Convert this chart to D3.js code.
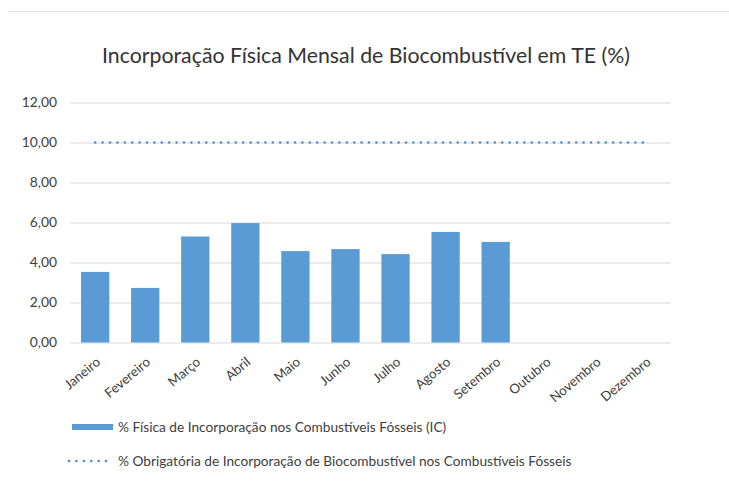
<!DOCTYPE html>
<html>
<head>
<meta charset="utf-8">
<script src="https://cdn.jsdelivr.net/npm/d3@7"></script>
<style>
  html, body { margin: 0; padding: 0; background: #fff; }
  text { font-family: Lato, "Open Sans", sans-serif; }
</style>
</head>
<body>
<svg id="chart" width="729" height="488"></svg>
<script>
const months = ["Janeiro","Fevereiro","Março","Abril","Maio","Junho","Julho","Agosto","Setembro","Outubro","Novembro","Dezembro"];
const physical = [3.53, 2.73, 5.30, 5.97, 4.57, 4.67, 4.42, 5.53, 5.03, null, null, null];
const mandatory = [10,10,10,10,10,10,10,10,10,10,10,10];
const yTicks = [0, 2, 4, 6, 8, 10, 12];
const title = "Incorporação Física Mensal de Biocombustível em TE (%)";
const legendBar = "% Física de Incorporação nos Combustíveis Fósseis (IC)";
const legendLine = "% Obrigatória de Incorporação de Biocombustível nos Combustíveis Fósseis";

const svg = d3.select("#chart");
const m = {left: 70, right: 58, top: 102.5, bottom: 145.5};
const W = 729, H = 488;
const x = d3.scaleBand().domain(months).range([m.left, W - m.right]).paddingInner(0.435).paddingOuter(0.22);
const y = d3.scaleLinear().domain([0, 12]).range([H - m.bottom, m.top]);
const fmt = v => d3.format(".2f")(v).replace(".", ",");
const barColor = "#5b9bd5";

// top separator line
svg.append("line").attr("x1", 8).attr("x2", 729).attr("y1", 11.5).attr("y2", 11.5)
  .attr("stroke", "#e3e3e3").attr("stroke-width", 1);

// title
svg.append("text").attr("x", 366).attr("y", 63).attr("text-anchor", "middle")
  .attr("font-size", 21.3).attr("fill", "#333").text(title);

// grid + y axis
const yAxis = d3.axisLeft(y).tickValues(yTicks).tickFormat(fmt).tickSize(-(W - m.right - m.left)).tickPadding(13);
const ga = svg.append("g").attr("transform", `translate(${m.left},0)`).call(yAxis);
ga.select(".domain").remove();
ga.selectAll(".tick line").attr("stroke", "#d9d9d9").attr("stroke-width", 1);
ga.selectAll(".tick text").attr("font-size", 13.8).attr("fill", "#404040").attr("font-family", "Lato, sans-serif");

// bars
svg.append("g").selectAll("rect").data(months.map((mo, i) => ({mo, v: physical[i]})).filter(d => d.v != null))
  .join("rect")
  .attr("x", d => x(d.mo)).attr("width", x.bandwidth())
  .attr("y", d => y(d.v)).attr("height", d => y(0) - y(d.v))
  .attr("fill", barColor);

// dotted mandatory line
const line = d3.line().x((d, i) => x(months[i]) + x.bandwidth() / 2).y(d => y(d));
svg.append("path").datum(mandatory).attr("d", line)
  .attr("fill", "none").attr("stroke", "#4f8fcf").attr("stroke-width", 2.6)
  .attr("stroke-dasharray", "0.1,7.3").attr("stroke-linecap", "round");

// x axis labels
const xAxis = d3.axisBottom(x).tickSize(0).tickPadding(0);
const gx = svg.append("g").attr("transform", `translate(0,${y(0)})`).call(xAxis);
gx.select(".domain").remove();
gx.selectAll(".tick text")
  .attr("text-anchor", "end").attr("font-size", 13.3).attr("fill", "#404040")
  .attr("font-family", "Lato, sans-serif")
  .attr("dy", null)
  .attr("transform", "translate(6,21) rotate(-40)");

// legend
const lg = svg.append("g");
lg.append("rect").attr("x", 72).attr("y", 424).attr("width", 41).attr("height", 6).attr("fill", barColor);
lg.append("text").attr("x", 118).attr("y", 427).attr("dy", "0.35em").attr("font-size", 13.7).attr("fill", "#404040").text(legendBar);
lg.append("line").attr("x1", 69).attr("x2", 110).attr("y1", 461).attr("y2", 461)
  .attr("stroke", "#4f8fcf").attr("stroke-width", 2.6).attr("stroke-dasharray", "0.1,7.3").attr("stroke-linecap", "round");
lg.append("text").attr("x", 118).attr("y", 461).attr("dy", "0.35em").attr("font-size", 13.7).attr("fill", "#404040").text(legendLine);
</script>
</body>
</html>
